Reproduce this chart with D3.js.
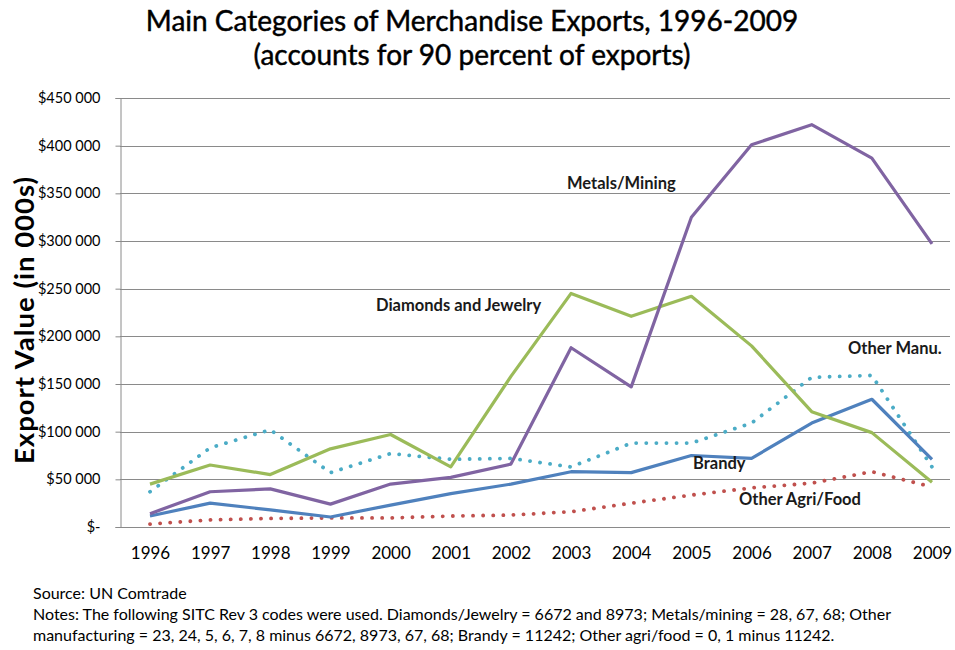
<!DOCTYPE html>
<html>
<head>
<meta charset="utf-8">
<script src="https://cdn.jsdelivr.net/npm/d3@7"></script>
<style>
  html, body { margin: 0; padding: 0; background: #fff; }
  svg { display: block; font-family: Lato, "Open Sans", sans-serif; }
</style>
</head>
<body>
<svg id="chart" width="955" height="650"></svg>
<script>
// Export values in thousands of dollars, 1996-2009
const years = ["1996","1997","1998","1999","2000","2001","2002","2003","2004","2005","2006","2007","2008","2009"];
const metalsMining   = [14000, 37000, 40000, 24000, 45000, 52000, 66000, 188000, 147000, 325000, 401000, 422000, 387000, 297000];
const diamondsJewelry= [45000, 65000, 55000, 82000, 97000, 63000, 158000, 245000, 221000, 242000, 190000, 121000, 99000, 47000];
const otherManu      = [37000, 83000, 102000, 57000, 77000, 71000, 72000, 63000, 88000, 88000, 109000, 157000, 159000, 63000];
const brandy         = [11500, 25000, 18000, 10500, 23000, 35000, 45000, 58000, 57000, 75000, 72000, 109000, 134000, 71000];
const otherAgriFood  = [3000, 7500, 9000, 9500, 9500, 11500, 12500, 16000, 25000, 33500, 41000, 46000, 58000, 42000];
const yTicks = [0, 50000, 100000, 150000, 200000, 250000, 300000, 350000, 400000, 450000];

const series = [
  { name: "Other Agri/Food",      values: otherAgriFood,   color: "#C0504D", dotted: true,  label: [739, 499] },
  { name: "Other Manu.",          values: otherManu,       color: "#4BACC6", dotted: true,  label: [848, 348] },
  { name: "Brandy",               values: brandy,          color: "#4F81BD", dotted: false, label: [693, 463] },
  { name: "Diamonds and Jewelry", values: diamondsJewelry, color: "#9BBB59", dotted: false, label: [376, 305] },
  { name: "Metals/Mining",        values: metalsMining,    color: "#8064A2", dotted: false, label: [567, 183] }
];

const svg = d3.select("#chart");
const plot = { left: 120, right: 950, top: 98, bottom: 527 };

const x = d3.scalePoint().domain(years).range([150, 932]);
const y = d3.scaleLinear().domain([0, 450000]).range([plot.bottom, plot.top]);

// Title
const titleLines = ["Main Categories of Merchandise Exports, 1996-2009", "(accounts for 90 percent of exports)"];
svg.append("g").selectAll("text").data(titleLines).join("text")
  .attr("x", 472).attr("y", (d, i) => 31 + i * 34).attr("text-anchor", "middle")
  .attr("font-size", 28).attr("fill", "#000").attr("stroke", "#000").attr("stroke-width", 0.45)
  .text(d => d);

// Horizontal gridlines
svg.append("g").selectAll("line").data(yTicks.slice(1)).join("line")
  .attr("x1", plot.left).attr("x2", plot.right)
  .attr("y1", d => Math.round(y(d)) + 0.5).attr("y2", d => Math.round(y(d)) + 0.5)
  .attr("stroke", "#8a8a8a").attr("stroke-width", 1);

// Y axis
const fmt = v => v === 0 ? "$-" : "$" + d3.format(",")(v).replace(/,/g, " ");
const yAxis = svg.append("g").attr("transform", `translate(${plot.left + 0.5},0)`)
  .call(d3.axisLeft(y).tickValues(yTicks).tickSize(5).tickPadding(15).tickFormat(fmt));
yAxis.select(".domain").attr("stroke", "#8a8a8a");
yAxis.selectAll(".tick line").attr("stroke", "#8a8a8a");
yAxis.selectAll(".tick text").attr("font-family", "Lato, sans-serif").attr("font-size", 14.5).attr("fill", "#000");

// X axis
const xAxis = svg.append("g").attr("transform", `translate(0,${Math.round(plot.bottom) + 0.5})`)
  .call(d3.axisBottom(x).tickSize(0).tickPadding(19));
xAxis.select(".domain").attr("d", `M${plot.left},0H${plot.right}`).attr("stroke", "#8a8a8a");
xAxis.selectAll(".tick text").attr("font-family", "Lato, sans-serif").attr("font-size", 17).attr("fill", "#000");

// Y axis title
svg.append("text").attr("transform", "translate(34,320) rotate(-90)")
  .attr("text-anchor", "middle").attr("font-size", 27.5).attr("font-weight", "bold")
  .attr("letter-spacing", 1)
  .text("Export Value (in 000s)");

// Series lines
const line = d3.line().x((d, i) => x(years[i])).y(d => y(d));
svg.append("g").selectAll("path").data(series).join("path")
  .attr("d", s => line(s.values))
  .attr("fill", "none")
  .attr("stroke", s => s.color)
  .attr("stroke-width", s => s.dotted ? 3.8 : 3.2)
  .attr("stroke-linecap", s => s.dotted ? "round" : "butt")
  .attr("stroke-linejoin", "round")
  .attr("stroke-dasharray", s => s.dotted ? "0.1 10" : null);

// Series labels
svg.append("g").selectAll("text").data(series).join("text")
  .attr("x", s => s.label[0]).attr("y", s => s.label[1] + 6)
  .attr("font-size", 16.5).attr("font-weight", "bold").attr("fill", "#1a1a1a")
  .text(s => s.name);

// Source and notes
const notes = [
  "Source: UN Comtrade",
  "Notes: The following SITC Rev 3 codes were used. Diamonds/Jewelry = 6672 and 8973; Metals/mining = 28, 67, 68; Other",
  "manufacturing = 23, 24, 5, 6, 7, 8 minus 6672, 8973, 67, 68; Brandy = 11242; Other agri/food = 0, 1 minus 11242."
];
svg.append("g").selectAll("text").data(notes).join("text")
  .attr("x", 33).attr("y", (d, i) => 599 + i * 21)
  .attr("font-size", 16).attr("fill", "#000")
  .text(d => d);
</script>
</body>
</html>
